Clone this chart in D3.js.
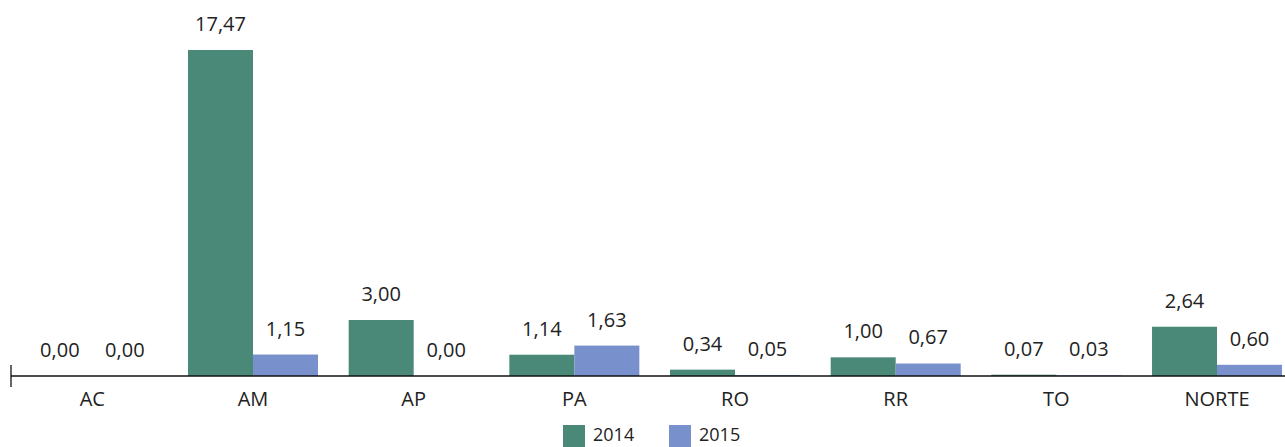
<!DOCTYPE html>
<html><head><meta charset="utf-8">
<script src="https://cdn.jsdelivr.net/npm/d3@7"></script>
<style>body{margin:0;background:#fff}svg{display:block}text{font-family:"Open Sans","Noto Sans",sans-serif;fill:#222}</style>
</head><body>
<svg id="c" width="1285" height="447"></svg>
<script>
const categories = ["AC","AM","AP","PA","RO","RR","TO","NORTE"];
const series = ["2014","2015"];
const values2014 = [0.00,17.47,3.00,1.14,0.34,1.00,0.07,2.64];
const values2015 = [0.00,1.15,0.00,1.63,0.05,0.67,0.03,0.60];
const colors = ["#4a8878","#7890cb"];

const svg = d3.select("#c");
const axisX0 = 11, bandX0 = 12, step = 160.67, yBase = 376, yTop = 50;
const x = d3.scaleBand().domain(categories).range([bandX0, bandX0 + step * categories.length]).paddingInner(0).paddingOuter(0);
const xs = d3.scaleBand().domain(series).range([0, x.bandwidth()]).paddingOuter(0.236).paddingInner(0);
const y = d3.scaleLinear().domain([0, 17.47]).range([yBase, yTop]);
const fmt = v => d3.format(".2f")(v).replace(".", ",");

const data = [values2014, values2015];
series.forEach((s, si) => {
  const g = svg.append("g");
  g.selectAll("rect").data(categories).join("rect")
    .attr("x", c => x(c) + xs(s))
    .attr("y", (c, i) => y(data[si][i]))
    .attr("width", xs.bandwidth())
    .attr("height", (c, i) => yBase - y(data[si][i]))
    .attr("fill", colors[si]);
  g.selectAll("text").data(categories).join("text")
    .attr("x", c => x(c) + xs(s) + xs.bandwidth() / 2)
    .attr("y", (c, i) => y(data[si][i]) - 19)
    .attr("text-anchor", "middle")
    .attr("font-size", 20)
    .text((c, i) => fmt(data[si][i]));
});

const axis = d3.axisBottom(x).tickSize(0).tickPadding(16);
const ag = svg.append("g").attr("transform", `translate(0,${yBase})`).call(axis);
ag.select(".domain").attr("stroke", "#111").attr("stroke-width", 1.3).attr("d", `M${axisX0},0H1285`);
ag.selectAll("text").attr("font-size", 20).attr("font-family", '"Open Sans","Noto Sans",sans-serif').attr("fill", "#222");
svg.append("line").attr("x1", axisX0).attr("x2", axisX0).attr("y1", yBase - 11).attr("y2", yBase + 11).attr("stroke", "#111").attr("stroke-width", 1.3);

const leg = svg.append("g");
const legX = [563, 669];
series.forEach((s, i) => {
  leg.append("rect").attr("x", legX[i]).attr("y", 425).attr("width", 22).attr("height", 22).attr("fill", colors[i]);
  leg.append("text").attr("x", legX[i] + 30).attr("y", 441).attr("font-size", 18).text(s);
});
</script>
</body></html>
